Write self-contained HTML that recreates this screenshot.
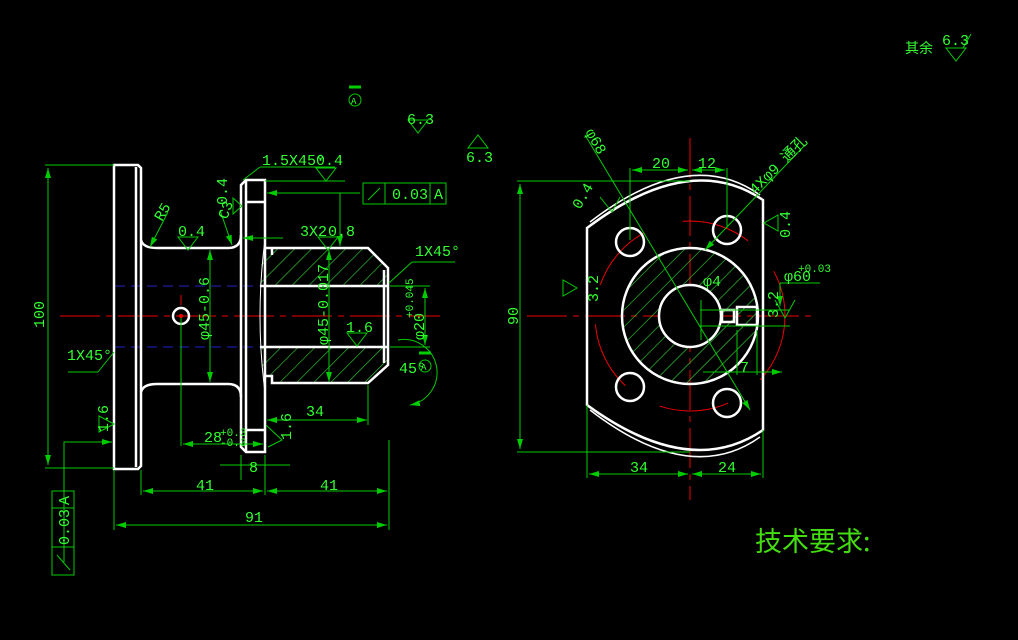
<!DOCTYPE html>
<html><head><meta charset="utf-8"><style>
html,body{margin:0;padding:0;background:#000;width:1018px;height:640px;overflow:hidden}
svg{display:block}
text{font-family:"Liberation Mono","Noto Sans CJK SC",monospace;fill:#3f3;font-size:15px}
.w{stroke:#fff;stroke-width:2.5;fill:none}
.g{stroke:#0c0;stroke-width:1;fill:none}
.r{stroke:#e00;stroke-width:1;fill:none}
</style></head><body>
<svg width="1018" height="640" viewBox="0 0 1018 640" xmlns="http://www.w3.org/2000/svg">
<defs>
<pattern id="hat" width="12" height="12" patternUnits="userSpaceOnUse" patternTransform="rotate(45)">
<line x1="0" y1="0" x2="0" y2="12" stroke="#3d3" stroke-width="1.2"/></pattern>
<marker id="a" markerWidth="10" markerHeight="6" refX="10" refY="3" orient="auto-start-reverse"><path d="M0,0L10,3L0,6z" fill="#0c0"/></marker>
</defs>

<line class="r" x1="60" y1="316" x2="440" y2="316" stroke-dasharray="40,6,6,6"/>
<line x1="115" y1="286" x2="262" y2="286" stroke="#22c" stroke-dasharray="10,6"/>
<line x1="115" y1="347" x2="262" y2="347" stroke="#22c" stroke-dasharray="10,6"/>
<path d="M262,255 L272,255 L272,248 L368,248 L388,270 L388,286 L260,286 Z" fill="url(#hat)"/>
<path d="M262,347 L388,347 L388,363 L368,383 L272,383 L272,376 L262,376 Z" fill="url(#hat)"/>
<path class="w" d="M114,165 L138,165 L141,168 L141,466 L138,469 L114,469 Z"/>
<line class="w" x1="136" y1="167" x2="136" y2="467" stroke-width="1.5"/>
<path class="w" d="M141,240 Q143,248 157,248 L228,248 Q241,248 241,235"/>
<path class="w" d="M141,392 Q143,384 157,384 L228,384 Q241,384 241,397"/>
<path class="w" d="M246,180 L265,180 L265,452 L246,452 L241,447 L241,185 Z"/>
<line class="w" x1="246" y1="180" x2="246" y2="452" stroke-width="1.5"/>
<line class="w" x1="246" y1="202" x2="265" y2="202" stroke-width="1.5"/>
<line class="w" x1="246" y1="430" x2="265" y2="430" stroke-width="1.5"/>
<path class="w" d="M265,248 L272,248 L272,255 M272,248 L368,248 L388,268 L388,365 L368,383 L272,383 L272,376 L265,376"/>
<line class="w" x1="260" y1="286" x2="388" y2="286"/>
<line class="w" x1="260" y1="347" x2="388" y2="347"/>
<path d="M265,240 Q255,316 265,392" stroke="#fff" fill="none" stroke-width="1"/>
<line class="w" x1="384" y1="270" x2="384" y2="363" stroke-width="1.5"/>
<circle cx="181" cy="316" r="8" class="w" stroke-width="4"/>
<circle cx="181" cy="316" r="2" fill="#e00"/>
<line class="r" x1="181" y1="295" x2="181" y2="305"/>

<g class="g">
<line x1="45" y1="165" x2="114" y2="165"/><line x1="45" y1="468" x2="114" y2="468"/>
<line x1="48" y1="168" x2="48" y2="465" marker-start="url(#a)" marker-end="url(#a)"/>
<line x1="68" y1="372" x2="98" y2="372"/><line x1="98" y1="372" x2="114" y2="352"/>
<path d="M64,562 L64,442 L112,442" marker-end="url(#a)"/>
<rect x="52" y="491" width="22" height="84"/><line x1="52" y1="508" x2="74" y2="508"/><line x1="52" y1="547" x2="74" y2="547"/>
<line x1="57" y1="555" x2="70" y2="570"/>
<line x1="114" y1="470" x2="114" y2="530"/><line x1="389" y1="440" x2="389" y2="530"/>
<line x1="116" y1="525" x2="387" y2="525" marker-start="url(#a)" marker-end="url(#a)"/>
<line x1="141" y1="470" x2="141" y2="495"/><line x1="265" y1="455" x2="265" y2="495"/>
<line x1="143" y1="491" x2="263" y2="491" marker-start="url(#a)" marker-end="url(#a)"/>
<line x1="267" y1="491" x2="387" y2="491" marker-start="url(#a)" marker-end="url(#a)"/>
<line x1="241" y1="455" x2="241" y2="480"/>
<line x1="220" y1="465" x2="290" y2="465"/>
<line x1="181" y1="318" x2="181" y2="446"/>
<line x1="183" y1="444" x2="263" y2="444" marker-start="url(#a)" marker-end="url(#a)"/>
<line x1="210" y1="250" x2="210" y2="382" marker-start="url(#a)" marker-end="url(#a)"/>
<line x1="329" y1="250" x2="329" y2="382" marker-start="url(#a)" marker-end="url(#a)"/>
<line x1="267" y1="420" x2="367" y2="420" marker-start="url(#a)" marker-end="url(#a)"/>
<line x1="368" y1="385" x2="368" y2="425"/>
<line x1="390" y1="286" x2="430" y2="286"/><line x1="390" y1="347" x2="430" y2="347"/>
<line x1="425" y1="288" x2="425" y2="345" marker-start="url(#a)" marker-end="url(#a)"/>
<line x1="389" y1="283" x2="412" y2="262"/><line x1="412" y1="262" x2="455" y2="262"/>
<line x1="243" y1="180" x2="260" y2="167"/><line x1="260" y1="167" x2="335" y2="167"/>
<line x1="265" y1="181" x2="345" y2="181"/>
<line x1="267" y1="193" x2="360" y2="193" marker-start="url(#a)"/>
<line x1="340" y1="193" x2="340" y2="246" marker-end="url(#a)"/>
<rect x="363" y="183" width="83" height="21"/><line x1="385" y1="183" x2="385" y2="204"/><line x1="430" y1="183" x2="430" y2="204"/>
<line x1="368" y1="200" x2="380" y2="188"/>
<line x1="243" y1="238" x2="283" y2="238" marker-start="url(#a)"/>
<line x1="150" y1="247" x2="168" y2="212" marker-start="url(#a)"/>
<line x1="232" y1="245" x2="220" y2="210" marker-start="url(#a)"/>
<path d="M178,237 L198,237 L188,250 Z"/>
<path d="M318,237 L338,237 L328,250 Z"/>
<path d="M316,168 L336,168 L326,181 Z"/>
<path d="M347,333 L367,333 L357,346 Z"/>
<path d="M233,198 L233,214 L242,206 Z"/>
<path d="M99,416 L99,432 L114,424 Z"/>
<path d="M266,425 L282,440 L268,447"/>
<path d="M398,340 A30,30 0 0 1 410,405" marker-end="url(#a)"/>
<path d="M408,120 L428,120 L418,133 Z"/>
<path d="M468,148 L488,148 L478,135 Z"/>
<line x1="349" y1="87" x2="361" y2="87" stroke-width="3"/>
<circle cx="355" cy="100" r="6"/>
<line x1="419" y1="353" x2="431" y2="353" stroke-width="3"/>
<circle cx="425" cy="366" r="6"/>
</g>
<text x="262" y="165">1.5X45°</text><text x="316" y="165">0.4</text>
<text x="178" y="236">0.4</text><text x="328" y="236">0.8</text>
<text x="300" y="236">3X2</text>
<text x="415" y="256">1X45°</text>
<text x="67" y="360">1X45°</text>
<text x="346" y="332">1.6</text>
<text x="306" y="416">34</text>
<text x="204" y="442">28</text><text x="220" y="436" style="font-size:11px">+0.3</text><text x="220" y="446" style="font-size:11px">-0.3</text>
<text x="249" y="472">8</text>
<text x="196" y="490">41</text><text x="320" y="490">41</text>
<text x="245" y="522">91</text>
<text x="399" y="373">45°</text>
<text x="407" y="124">6.3</text><text x="466" y="162">6.3</text>
<text x="392" y="199">0.03</text><text x="434" y="199">A</text>
<text x="351" y="104" style="font-size:9px">A</text><text x="421" y="370" style="font-size:9px">A</text>
<text transform="translate(44,328) rotate(-90)">100</text>
<text transform="translate(69,545) rotate(-90)">0.03</text>
<text transform="translate(69,505) rotate(-90)">A</text>
<text transform="translate(108,432) rotate(-90)">1.6</text>
<text transform="translate(291,440) rotate(-90)">1.6</text>
<text transform="translate(209,340) rotate(-90)">φ45-0.6</text>
<text transform="translate(328,345) rotate(-90)">φ45-0.017</text>
<text transform="translate(424,340) rotate(-90)">φ20</text>
<text transform="translate(413,318) rotate(-90)" style="font-size:11px">+0.045</text>
<text transform="translate(162,222) rotate(-60)">R5</text>
<text transform="translate(227,220) rotate(-70)">C3</text>
<text transform="translate(227,205) rotate(-90)">0.4</text>

<line class="r" x1="527" y1="316" x2="812" y2="316" stroke-dasharray="40,6,6,6"/>
<line class="r" x1="690" y1="138" x2="690" y2="500" stroke-dasharray="40,6,6,6"/>
<circle class="r" cx="690" cy="316" r="95" stroke-dasharray="70,40"/>
<circle cx="690" cy="316" r="68" fill="url(#hat)"/>
<circle cx="690" cy="316" r="31" fill="#000"/>
<path class="w" d="M587,228 Q690,150 763,200 L763,430 Q690,480 587,405 Z"/>
<path d="M590,222 Q690,145 760,195" stroke="#fff" fill="none" stroke-width="1.5"/>
<path d="M590,410 Q690,487 760,437" stroke="#fff" fill="none" stroke-width="1.5"/>
<circle class="w" cx="690" cy="316" r="68"/>
<circle class="w" cx="690" cy="316" r="31"/>
<circle class="w" cx="630" cy="242" r="14"/>
<circle class="w" cx="727" cy="230" r="14"/>
<circle class="w" cx="630" cy="387" r="14"/>
<circle class="w" cx="727" cy="403" r="14"/>
<rect class="w" x="722" y="310" width="12" height="12" stroke-width="2"/>
<rect class="w" x="737" y="307" width="20" height="18" stroke-width="2"/>
<g class="g">
<line x1="517" y1="181" x2="690" y2="181"/><line x1="517" y1="452" x2="690" y2="452"/>
<line x1="520" y1="184" x2="520" y2="449" marker-start="url(#a)" marker-end="url(#a)"/>
<line x1="587" y1="405" x2="587" y2="478"/><line x1="763" y1="430" x2="763" y2="478"/>
<line x1="589" y1="474" x2="688" y2="474" marker-start="url(#a)" marker-end="url(#a)"/>
<line x1="692" y1="474" x2="761" y2="474" marker-start="url(#a)" marker-end="url(#a)"/>
<line x1="630" y1="168" x2="630" y2="240"/><line x1="727" y1="168" x2="727" y2="228"/>
<line x1="632" y1="170" x2="688" y2="170" marker-start="url(#a)" marker-end="url(#a)"/>
<line x1="692" y1="170" x2="725" y2="170" marker-start="url(#a)" marker-end="url(#a)"/>
<line x1="585" y1="135" x2="750" y2="410" marker-end="url(#a)"/>
<line x1="805" y1="145" x2="705" y2="250" marker-end="url(#a)"/>
<line x1="703" y1="372" x2="782" y2="372" marker-end="url(#a)"/>
<line x1="737" y1="330" x2="737" y2="375"/><line x1="757" y1="330" x2="757" y2="375"/>
<line x1="701" y1="300" x2="701" y2="340"/>
<line x1="700" y1="310" x2="790" y2="310"/><line x1="700" y1="326" x2="790" y2="326"/>
<line x1="780" y1="283" x2="820" y2="283"/>
<line x1="780" y1="283" x2="780" y2="306" marker-end="url(#a)"/>
<path d="M563,280 L563,296 L577,288 Z"/>
<path d="M778,215 L778,231 L764,223 Z"/>
<path d="M600,197 L612,212 L620,197"/>
<path d="M775,300 L785,318 L795,300"/>
<path d="M946,48 L966,48 L956,61 Z"/>
<line x1="963" y1="48" x2="971" y2="34"/>
</g>
<text x="652" y="168">20</text><text x="698" y="168">12</text>
<text x="630" y="472">34</text><text x="718" y="472">24</text>
<text x="740" y="372">7</text>
<text x="703" y="286">φ4</text>
<text x="784" y="281">φ60</text><text x="798" y="272" style="font-size:11px">+0.03</text>
<text x="942" y="45">6.3</text>
<text x="905" y="53" style="font-size:14px">其余</text>
<text x="755" y="551" style="font-size:27px;font-family:'Noto Sans CJK SC',sans-serif;fill:#4d1">技术要求:</text>
<text transform="translate(518,325) rotate(-90)">90</text>
<text transform="translate(598,302) rotate(-90)">3.2</text>
<text transform="translate(790,238) rotate(-90)">0.4</text>
<text transform="translate(778,318) rotate(-90)">3.2</text>
<text transform="translate(585,132) rotate(60)">φ68</text>
<text transform="translate(755,195) rotate(-45)">4Xφ9 通孔</text>
<text transform="translate(580,210) rotate(-60)">0.4</text>
</svg>
</body></html>
